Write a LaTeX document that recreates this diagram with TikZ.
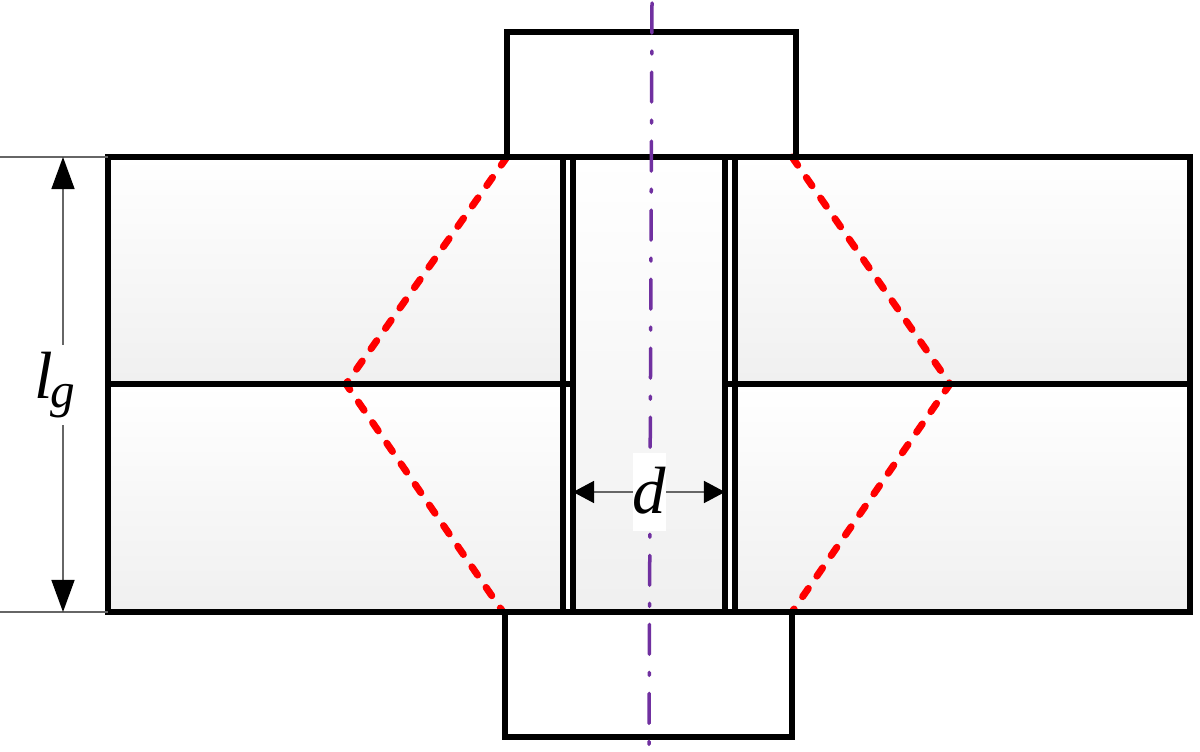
\documentclass[tikz,border=0pt]{standalone}
\usepackage{fontspec}
\setmainfont{Liberation Serif}
\usetikzlibrary{arrows.meta}
\definecolor{axispurple}{HTML}{7030A0}
\begin{document}
\begin{tikzpicture}[
  x=.01cm,
  y=-.01cm,
  plate/.style={
    top color=white,
    bottom color=black!6,
    draw=none
  },
  edge/.style={
    black,
    line width=.052cm
  },
  cone/.style={
    red,
    line width=.07cm,
    line cap=round,
    dash pattern=on .1cm off .15cm
  },
  axis/.style={
    axispurple,
    line width=.035cm,
    line cap=round,
    dash pattern=on .3cm off .18cm on .03cm off .18cm
  },
  dim/.style={
    black!60,
    line width=.014cm
  },
  dimbig/.style={
    dim,
    {Triangle[length=.32cm,width=.23cm,black]}-{Triangle[length=.32cm,width=.23cm,black]}
  },
  dimsmall/.style={
    dim,
    {Triangle[length=.21cm,width=.22cm,black]}-{Triangle[length=.21cm,width=.22cm,black]}
  },
  dimlabel/.style={
    fill=white,
    inner sep=0pt,
    font=\fontsize{19pt}{19pt}\selectfont\itshape
  },
]
\useasboundingbox (0,0) rectangle (1200,752);
% shaded parts
\fill[plate] (108,157) rectangle (563,384);
\fill[plate] (108,384) rectangle (563,612);
\fill[plate] (735,157) rectangle (1190,384);
\fill[plate] (735,384) rectangle (1190,612);
\fill[plate] (573,157) rectangle (725,612);
% points of the joint
\coordinate (axistop) at (652,3);
\coordinate (axisbottom) at (649,745);
\coordinate (conetl) at (507,157);
\coordinate (conetr) at (792,157);
\coordinate (conebl) at (503,612);
\coordinate (conebr) at (792,612);
\coordinate (tipl) at (346,384);
\coordinate (tipr) at (950,384);
\coordinate (extt) at (0,157);
\coordinate (extb) at (0,612);
\coordinate (platetl) at (108,157);
\coordinate (platebl) at (108,612);
\coordinate (dimt) at (63,157);
\coordinate (dimb) at (63,612);
\coordinate (shankl) at (573,492);
\coordinate (shankr) at (725,492);
% dashed cones
\draw[cone] (conetl) -- (tipl) -- (conebl);
\draw[cone] (conetr) -- (tipr) -- (conebr);
% outlines
\draw[edge] (platetl) -- (1190,157) -- (1190,612) -- (platebl) -- cycle;
\draw[edge] (108,384) -- (573,384);
\draw[edge] (725,384) -- (1190,384);
\draw[edge] (563,157) -- (563,612);
\draw[edge] (573,157) -- (573,612);
\draw[edge] (725,157) -- (725,612);
\draw[edge] (735,157) -- (735,612);
\draw[edge] (507,157) -- (507,32) -- (796,32) -- (796,157);
\draw[edge] (505,612) -- (505,737) -- (792,737) -- (792,612);
% axis
\draw[axis] (axistop) -- (axisbottom);
% dimensions
\draw[dim] (extt) -- (platetl);
\draw[dim] (extb) -- (platebl);
\draw[dimbig] (dimt) -- (dimb);
\draw[dimsmall] (shankl) -- (shankr);
\node[dimlabel,minimum width=.5cm,minimum height=.8cm] (lg) at (55,385) {l\kern-.03em\raisebox{-.3ex}{\fontsize{14pt}{14pt}\selectfont g}};
\node[dimlabel,minimum width=.33cm,minimum height=.78cm] (d) at (649.5,492) {\raisebox{1.1pt}{d}};
\end{tikzpicture}
\end{document}
